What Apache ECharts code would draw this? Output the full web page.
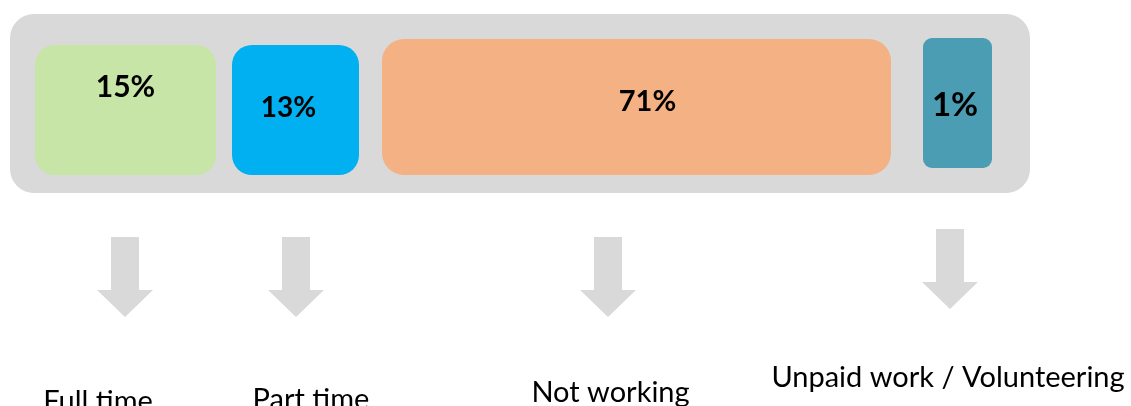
<!DOCTYPE html>
<html>
<head>
<meta charset="utf-8">
<script src="https://cdn.jsdelivr.net/npm/echarts@6/dist/echarts.min.js"></script>
<style>
html, body { margin: 0; padding: 0; background: #fff; }
#chart { width: 1131px; height: 406px; }
</style>
</head>
<body>
<div id="chart"></div>
<script>
// data
const categories = ["Full time", "Part time", "Not working", "Unpaid work / Volunteering"];
const shares = [15, 13, 71, 1];
const colors = ["#c7e5a6", "#00b0f0", "#f4b184", "#4b9db3"];

// layout (page pixels) - the boxes in the original are not drawn to scale
const boxX = [[35, 216], [232, 359], [382, 891], [923, 992]];
const boxY = [[45, 175], [45, 175], [39, 175], [38, 168]];
const boxRadius = [20, 20, 22, 9];
const shareLabelX = [125.5, 288.5, 647.5, 955];
const shareLabelY = [87.5, 108, 101.5, 105.5];
const shareFontSize = [30, 28, 29, 33];
const arrowX = [125, 296, 608, 950];
const arrowTop = [237, 237, 237, 229];
const nameX = [98, 311, 610.5, 948];
const nameY = [401.5, 400, 392.5, 377.5];

const chartDom = document.getElementById("chart");
const myChart = echarts.init(chartDom, null, { renderer: "canvas" });

const rectFrom = (api, x0, x1, y0, y1) => {
	const p0 = api.coord([x0, y0]);
	const p1 = api.coord([x1, y1]);
	return { x: p0[0], y: p0[1], width: p1[0] - p0[0], height: p1[1] - p0[1] };
};

const option = {
	animation: false,
	grid: { left: 0, right: 0, top: 0, bottom: 0 },
	xAxis: { type: "value", min: 0, max: 1131, show: false },
	yAxis: { type: "value", min: 0, max: 406, inverse: true, show: false },
	series: [
		{
			// grey panel behind the boxes
			type: "custom",
			silent: true,
			data: [[0]],
			renderItem: (params, api) => {
				const shape = rectFrom(api, 10, 1030, 14, 193);
				shape.r = 24;
				return { type: "rect", shape: shape, style: { fill: "#d9d9d9" } };
			},
		},
		{
			type: "custom",
			silent: true,
			data: shares.map((v, i) => [i, v]),
			renderItem: (params, api) => {
				const i = api.value(0);
				const shape = rectFrom(api, boxX[i][0], boxX[i][1], boxY[i][0], boxY[i][1]);
				shape.r = boxRadius[i];
				const mid = api.coord([shareLabelX[i], shareLabelY[i]]);
				const ax = arrowX[i];
				const at = arrowTop[i];
				const pts = [
					[ax - 14, at], [ax + 14, at], [ax + 14, at + 53], [ax + 28, at + 53],
					[ax, at + 80], [ax - 28, at + 53], [ax - 14, at + 53],
				].map((p) => api.coord(p));
				const namePos = api.coord([nameX[i], nameY[i]]);
				return {
					type: "group",
					children: [
						{ type: "rect", shape: shape, style: { fill: colors[i] } },
						{
							type: "text",
							x: mid[0],
							y: mid[1],
							style: {
								text: api.value(1) + "%",
								fill: "#000",
								font: "bold " + shareFontSize[i] + "px Lato",
								align: "center",
								verticalAlign: "middle",
							},
						},
						{ type: "polygon", shape: { points: pts }, style: { fill: "#d9d9d9" } },
						{
							type: "text",
							x: namePos[0],
							y: namePos[1],
							style: {
								text: categories[i],
								fill: "#000",
								font: "29px Lato",
								align: "center",
								verticalAlign: "middle",
							},
						},
					],
				};
			},
		},
	],
};

myChart.setOption(option);
</script>
</body>
</html>
